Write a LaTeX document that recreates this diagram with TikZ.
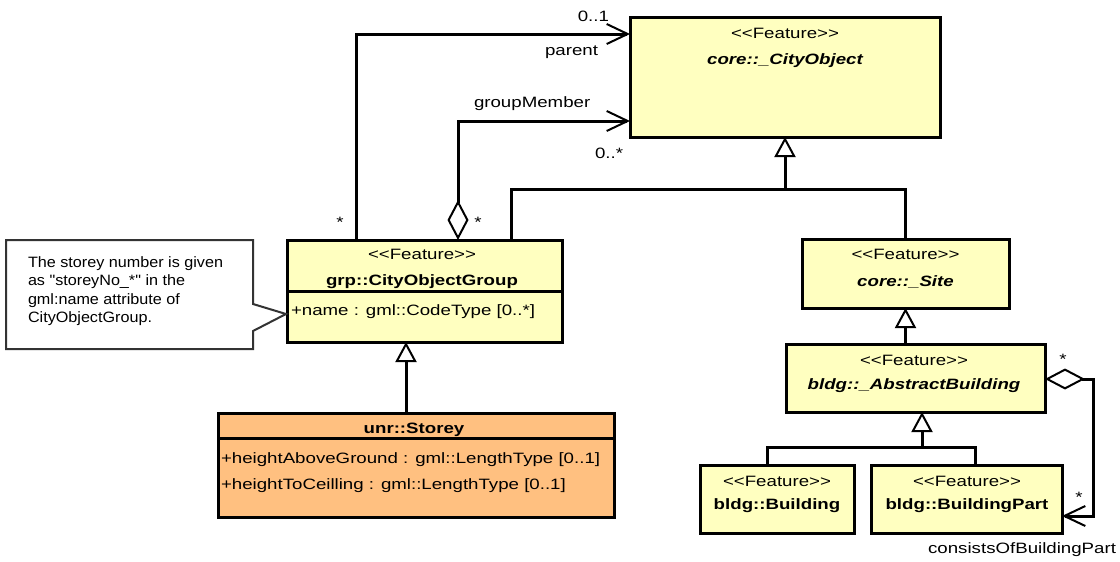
\documentclass[tikz,border=0pt]{standalone}
\usepackage{fontspec}
\newfontfamily\boxfont{Liberation Sans}[FakeStretch=1.245]
\newfontfamily\notefont{Liberation Sans}[FakeStretch=1.078]
\usetikzlibrary{arrows.meta,calc}
\definecolor{clsyellow}{RGB}{255,255,192}
\definecolor{clsorange}{RGB}{255,192,128}
\begin{document}
\begin{tikzpicture}[x=1pt,y=-1pt,
  cls/.style={rectangle, draw=black, line width=3pt, fill=clsyellow, inner sep=0pt, outer sep=0pt},
  txt/.style={inner sep=0pt, outer sep=0pt, font=\boxfont\fontsize{15}{18}\selectfont},
  boldtxt/.style={txt, font=\boxfont\fontsize{15}{18}\selectfont\bfseries},
  bitxt/.style={txt, font=\boxfont\fontsize{15}{18}\selectfont\bfseries\itshape},
  notetxt/.style={inner sep=0pt, outer sep=0pt, font=\notefont\fontsize{15}{18}\selectfont},
  conn/.style={draw=black, line width=3pt},
  assoc/.style={conn, -{Straight Barb[length=21pt,width=20pt,line width=2pt]}},
  aggassoc/.style={conn, {Diamond[length=40pt,width=21pt,line width=2pt,fill=white]}-{Straight Barb[length=21pt,width=20pt,line width=2pt]}},
  gen/.style={conn, -{Triangle[length=20pt,width=21pt,line width=2pt,fill=white]}},
  notebox/.style={draw=black!80, line width=2pt, fill=white}
]
\fill[white] (0,0) rectangle (1120,562);
\useasboundingbox (0,0) rectangle (1120,562);

% class boxes
\node[cls, minimum width=310pt, minimum height=120pt] (co) at (785,77) {};
\node[cls, minimum width=207pt, minimum height=69pt] (site) at (905.5,273.5) {};
\node[cls, minimum width=275pt, minimum height=102pt] (grp) at (424.5,291) {};
\node[cls, fill=clsorange, minimum width=396pt, minimum height=104pt] (storey) at (416,465) {};
\node[cls, minimum width=259pt, minimum height=68pt] (ab) at (915.5,378) {};
\node[cls, minimum width=154pt, minimum height=68pt] (bldg) at (777,499) {};
\node[cls, minimum width=191pt, minimum height=68pt] (bp) at (966.5,499) {};

% compartment separators
\draw[line width=3pt] (grp.west) -- (grp.east);
\draw[line width=3pt] ($(storey.north west)+(0,25)$) -- ($(storey.north east)+(0,25)$);

% class texts
\node[txt, anchor=base] (co-s) at (785,38) {<{}<Feature>{}>};
\node[bitxt, anchor=base] (co-n) at (785,64) {core::\_CityObject};
\node[txt, anchor=base] (site-s) at (905.5,259) {<{}<Feature>{}>};
\node[bitxt, anchor=base] (site-n) at (905.5,286) {core::\_Site};
\node[txt, anchor=base] (grp-s) at (422,259) {<{}<Feature>{}>};
\node[boldtxt, anchor=base] (grp-n) at (422,285.5) {grp::CityObjectGroup};
\node[txt, anchor=base west] (grp-a) at (291,315.5) {+name : gml::CodeType [0..*]};
\node[boldtxt, anchor=base] (storey-n) at (414,433.5) {unr::Storey};
\node[txt, anchor=base west] (storey-a1) at (221,463) {+heightAboveGround : gml::LengthType [0..1]};
\node[txt, anchor=base west] (storey-a2) at (221,489) {+heightToCeilling : gml::LengthType [0..1]};
\node[txt, anchor=base] (ab-s) at (914,365) {<{}<Feature>{}>};
\node[bitxt, anchor=base] (ab-n) at (914,389.5) {bldg::\_AbstractBuilding};
\node[txt, anchor=base] (bldg-s) at (777,486) {<{}<Feature>{}>};
\node[boldtxt, anchor=base] (bldg-n) at (777,509.5) {bldg::Building};
\node[txt, anchor=base] (bp-s) at (967,486) {<{}<Feature>{}>};
\node[boldtxt, anchor=base] (bp-n) at (967,509.5) {bldg::BuildingPart};

% note
\coordinate (tip) at (286,314);
\draw[notebox] (6,240) -- (253,240) -- (253,304) -- (tip) -- (253,331) -- (253,349) -- (6,349) -- cycle;
\node[notetxt, anchor=base west] (note1) at (28,267) {The storey number is given};
\node[notetxt, anchor=base west] (note2) at (28,285.5) {as "storeyNo\_*" in the};
\node[notetxt, anchor=base west] (note3) at (28,304) {gml:name attribute of};
\node[notetxt, anchor=base west] (note4) at (28,322.5) {CityObjectGroup.};

% associations
\draw[assoc] ($(grp.north west)+(69,0)$) |- ($(co.north west)+(0,17)$);
\draw[aggassoc] ($(grp.north west)+(171,0)$) |- ($(co.north west)+(0,104)$);
\draw[aggassoc] ($(ab.north east)+(0,35)$) -- ++(48,0) |- ($(bp.south east)+(0,-17)$);

% generalizations
\coordinate (j1) at (785,189);
\draw[conn] ($(grp.north west)+(224,0)$) |- (j1) -| (site.north);
\draw[gen] (j1) -- (co.south);
\draw[gen] (ab.north -| site.south) -- (site.south);
\coordinate (g1) at ($(grp.south west)+(119,0)$);
\draw[gen] (g1 |- storey.north) -- (g1);
\coordinate (j2) at (922,447);
\draw[gen] (j2) -- (j2 |- ab.south);
\draw[conn] ($(bldg.north west)+(67,0)$) |- (j2) -| ($(bp.north west)+(104,0)$);

% labels
\node[txt, anchor=base east] (l01) at (609,21) {0..1};
\node[txt, anchor=base east] (lparent) at (598,55) {parent};
\node[txt, anchor=base west] (lgm) at (474,107) {groupMember};
\node[txt, anchor=base west] (l0s) at (595,158) {0..*};
\node[txt, anchor=base] (ls1) at (340,227) {*};
\node[txt, anchor=base] (ls2) at (478,227) {*};
\node[txt, anchor=base] (ls3) at (1063,364) {*};
\node[txt, anchor=base] (ls4) at (1079,502) {*};
\node[txt, anchor=base east] (lcons) at (1116,553) {consistsOfBuildingPart};
\end{tikzpicture}
\end{document}
